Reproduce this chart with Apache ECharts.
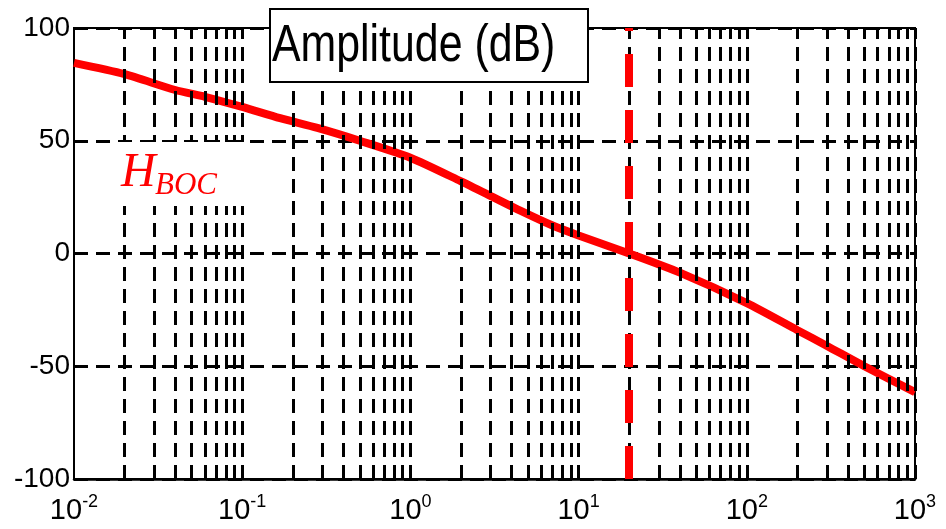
<!DOCTYPE html>
<html><head><meta charset="utf-8">
<script src="https://cdn.jsdelivr.net/npm/echarts@6/dist/echarts.min.js"></script>
<style>html,body{margin:0;padding:0;background:#fff}#c{width:946px;height:529px}</style>
</head><body><div id="c"></div>
<script>
// ---- data ----
const freq = [0.01,0.02,0.04,0.06,0.1,0.168,0.28,0.5,1,2,3.1,4.5,7,10,20,40,100,200,300,500,1000];
const amp  = [84.5,79.5,72.5,69.5,65,60,55.7,50,42.5,32,25,19,12.4,8,0,-8.5,-22,-34,-41,-50,-61.5];
const crossFreq = 20;
const gridFreqs = [0.02,0.03,0.04,0.05,0.06,0.07,0.08,0.09,0.1,
  0.2,0.3,0.4,0.5,0.6,0.7,0.8,0.9,1,
  2,3,4,5,6,7,8,9,10,
  20,30,40,50,60,70,80,90,100,
  200,300,400,500,600,700,800,900,1000];
const yTicks = [-100,-50,0,50,100];
const titleText = 'Amplitude (dB)';
const curveName = 'H';
const curveSub = 'BOC';

const FONT = "'Liberation Sans',Arial,sans-serif";
const SERIF = "'Liberation Serif','Times New Roman',serif";
const chart = echarts.init(document.getElementById('c'), null, {renderer:'canvas'});
const option = {
  animation:false,
  backgroundColor:'#fff',
  grid:{left:74,right:31,top:28,bottom:50,show:true,borderColor:'#000',borderWidth:2,backgroundColor:'transparent'},
  xAxis:{type:'log',logBase:10,min:0.01,max:1000,
    axisLine:{show:true,onZero:false,lineStyle:{color:'#000',width:2.5}},
    axisTick:{show:false},splitLine:{show:false},
    axisLabel:{show:true,margin:14,color:'#000',fontFamily:FONT,
      formatter:function(v){const e=Math.round(Math.log10(v));return '{b|10}{s|'+e+'}';},
      rich:{b:{fontSize:29,lineHeight:36,fontFamily:FONT,color:'#000'},
            s:{fontSize:18,lineHeight:18,verticalAlign:'top',fontFamily:FONT,color:'#000'}}}
  },
  yAxis:{type:'value',min:yTicks[0],max:yTicks[yTicks.length-1],interval:50,
    axisLine:{show:true,onZero:false,lineStyle:{color:'#000',width:2}},
    axisTick:{show:false},
    splitLine:{show:true,lineStyle:{color:'#000',width:3,type:[14,8]}},
    axisLabel:{margin:4,color:'#000',fontSize:28,fontFamily:FONT}
  },
  series:[
    {type:'line',data:[],silent:true,z:1,
     markLine:{silent:true,symbol:['none','none'],label:{show:false},animation:false,
       lineStyle:{color:'#000',width:3,type:[14,8]},
       data:gridFreqs.map(f=>({xAxis:f}))}},
    {type:'line',data:freq.map((f,i)=>[f,amp[i]]),showSymbol:false,smooth:0.25,z:3,
     lineStyle:{color:'#ff0000',width:8}},
    {type:'line',data:[],silent:true,z:4,
     markLine:{silent:true,symbol:['none','none'],label:{show:false},animation:false,
       lineStyle:{color:'#ff0000',width:8,type:[33,23]},
       data:[{xAxis:crossFreq}]}}
  ],
  graphic:[
    {type:'rect',z:100,shape:{x:117,y:142,width:133,height:64},style:{fill:'#fff'}},
    {type:'text',z:101,x:121,y:197,style:{text:curveName,fontFamily:SERIF,fontStyle:'italic',fontSize:48,fill:'#ff0000',verticalAlign:'bottom'}},
    {type:'text',z:101,x:155,y:201,style:{text:curveSub,fontFamily:SERIF,fontStyle:'italic',fontSize:31,fill:'#ff0000',verticalAlign:'bottom'}},
    {type:'rect',z:100,shape:{x:270,y:9,width:318,height:73},style:{fill:'#fff',stroke:'#000',lineWidth:2}},
    {type:'text',z:101,x:272,y:47,scaleX:0.84,style:{text:titleText,fontFamily:FONT,fontSize:51,fill:'#000',verticalAlign:'middle'}}
  ]
};
chart.setOption(option);
</script></body></html>
